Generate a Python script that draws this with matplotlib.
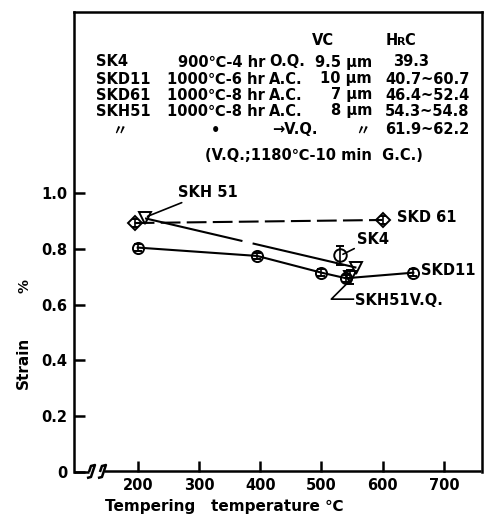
import numpy as np
import matplotlib
matplotlib.use('Agg')
import matplotlib.pyplot as plt

plt.rcParams['font.family'] = ['DejaVu Sans', 'Noto Sans CJK JP']
plt.rcParams['font.weight'] = 'bold'

#----- data
skd11_t = [200, 395, 500, 540, 650]
skd11_s = [0.805, 0.775, 0.715, 0.695, 0.715]
skd11_err = [0.012, 0.012, 0.012, 0.012, 0.012]

skd61_t = [195, 600]
skd61_s = [0.893, 0.904]
skd61_err = [0.015, 0.015]

skh51_t = [212, 557]
skh51_s = [0.910, 0.733]

sk4_t = [530]
sk4_s = [0.777]
sk4_err = [0.035]

skh51vq_t = [547]
skh51vq_s = [0.700]
skh51vq_err = [0.025]

xticks = [200, 300, 400, 500, 600, 700]
yticks = [0, 0.2, 0.4, 0.6, 0.8, 1.0]
ytick_labels = ['0', '0.2', '0.4', '0.6', '0.8', '1.0']

steels = ['SK4', 'SKD11', 'SKD61', 'SKH51']
treat = ['900℃-4 hr', '1000℃-6 hr', '1000℃-8 hr', '1000℃-8 hr']
quench = ['O.Q.', 'A.C.', 'A.C.', 'A.C.']
grain = ['9.5 μm', '10 μm', '7 μm', '8 μm']
hrc = ['39.3', '40.7~60.7', '46.4~52.4', '54.3~54.8']

W, H = 489, 520
fig = plt.figure(figsize=(W / 100, H / 100), dpi=100)
ax = fig.add_axes([74 / W, 1 - 472 / H, (482 - 74) / W, (472 - 12) / H])
ax.set_xlim(96, 762)
ax.set_ylim(0, 1.65)

def px(x, y):
    return x / W, 1 - y / H

lw = 1.5
k = 'black'
# SKD11
ax.errorbar(skd11_t, skd11_s, yerr=skd11_err, color=k, lw=lw, marker='o',
            ms=8, mfc='none', mew=1.4, elinewidth=1.2, capsize=3, zorder=3)
# SKD61 dashed
ax.errorbar(skd61_t, skd61_s, yerr=skd61_err, color=k, lw=lw, ls=(0, (9.5, 3)),
            marker='D', ms=7, mfc='none', mew=1.4, elinewidth=1.2, capsize=2, zorder=3)
# SKH51
ax.plot(skh51_t, skh51_s, color=k, lw=lw, ls=(0, (48, 5, 200, 5)),
        marker='v', ms=9, mfc='none', mew=1.4, zorder=3)
# SK4
ax.errorbar(sk4_t, sk4_s, yerr=sk4_err, color=k, marker='o', ms=9, mfc='none',
            mew=1.4, elinewidth=1.2, capsize=3, ls='none', zorder=3)
# SKH51 V.Q.
ax.errorbar(skh51vq_t, skh51vq_s, yerr=skh51vq_err, color=k, marker='v', ms=9,
            mfc='none', mew=1.4, elinewidth=1.2, capsize=3, ls='none', zorder=3)

lab = dict(fontsize=10.5, fontweight='bold', va='center', ha='left')
ax.annotate('SKH 51', xy=(216, 0.917), xytext=(265, 1.003), textcoords='data',
            arrowprops=dict(arrowstyle='-', lw=1.2, shrinkA=0, shrinkB=0), **lab)
ax.text(623, 0.914, 'SKD 61', **lab)
ax.annotate('SK4', xy=(535, 0.781), xytext=(558, 0.835),
            arrowprops=dict(arrowstyle='-', lw=1.2, shrinkA=0, shrinkB=0), **lab)
ax.text(662, 0.724, 'SKD11', **lab)
ax.text(555, 0.616, 'SKH51V.Q.', **lab)
ax.plot([552, 516, 542], [0.62, 0.62, 0.677], color=k, lw=1.2)

# axes style
for s in ['top', 'left', 'right']:
    ax.spines[s].set_linewidth(1.8)
ax.spines['bottom'].set_visible(False)
ax.set_xticks(xticks)
ax.set_yticks(yticks)
ax.set_yticklabels(ytick_labels)
ax.tick_params(direction='in', length=8, width=1.8, labelsize=10.5, pad=5)
ax.tick_params(axis='x', pad=4)
for t in ax.get_xticklabels() + ax.get_yticklabels():
    t.set_fontweight('bold')

# broken bottom axis
def d(xp, yp):
    return 96 + (xp - 74) / 0.614, (472 - yp) / 279
bx1 = [d(74, 472), d(89, 472)]
s1 = [d(89, 472), d(91, 466), d(95, 465), d(93, 471), d(91, 477), d(87, 478)]
s2 = [d(100, 472), d(102, 466), d(106, 465), d(104, 471), d(102, 477), d(98, 478)]
bx2 = [d(104, 471), d(482, 471)]
for seg in [bx1, s1, s2, bx2]:
    xs, ys = zip(*seg)
    ax.plot(xs, ys, color=k, lw=1.8, clip_on=False, solid_capstyle='butt')

fig.text(*px(224, 506), 'Tempering   temperature ℃', fontsize=11, fontweight='bold',
         ha='center', va='center')
fig.text(*px(23, 363), 'Strain', fontsize=11, fontweight='bold', rotation=90,
         ha='center', va='center')
fig.text(*px(25, 286), '%', fontsize=10, fontweight='bold', rotation=90,
         ha='center', va='center')

# treatment table
tb = dict(fontsize=10.5, fontweight='bold', va='center')
rows_y = [62, 79, 95, 111]
fig.text(*px(323, 41), 'VC', ha='center', **tb)
fig.text(*px(386, 41), 'H', ha='left', **tb)
fig.text(*px(397, 42), 'R', ha='left', fontsize=8, fontweight='bold', va='center')
fig.text(*px(404, 41), 'C', ha='left', **tb)
for i, y in enumerate(rows_y):
    fig.text(*px(96, y), steels[i], ha='left', **tb)
    fig.text(*px(265, y), treat[i], ha='right', **tb)
    fig.text(*px(269, y), quench[i], ha='left', **tb)
    fig.text(*px(372, y), grain[i], ha='right', **tb)
    fig.text(*px(393 if i == 0 else 385, y), hrc[i], ha='left', **tb)
fig.text(*px(120, 130), '〃', ha='center', **tb)
fig.text(*px(216, 130), '•', ha='center', **tb)
fig.text(*px(272, 130), '→V.Q.', ha='left', **tb)
fig.text(*px(363, 130), '〃', ha='center', **tb)
fig.text(*px(385, 130), '61.9~62.2', ha='left', **tb)
fig.text(*px(314, 156), '(V.Q.;1180℃-10 min  G.C.)', ha='center', **tb)

fig.savefig('out.png', dpi=100)
